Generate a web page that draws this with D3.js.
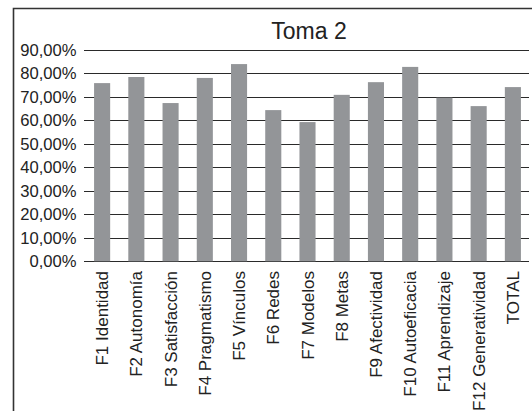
<!DOCTYPE html>
<html><head><meta charset="utf-8">
<script src="https://cdn.jsdelivr.net/npm/d3@7"></script>
<style>body{margin:0;background:#fff}svg{display:block}</style>
</head><body>
<script>
const categories = ["F1 Identidad","F2 Autonomía","F3 Satisfacción","F4 Pragmatismo","F5 Vínculos","F6 Redes","F7 Modelos","F8 Metas","F9 Afectividad","F10 Autoeficacia","F11 Aprendizaje","F12 Generatividad","TOTAL"];
const values = [0.759, 0.785, 0.674, 0.781, 0.840, 0.644, 0.593, 0.709, 0.763, 0.828, 0.697, 0.661, 0.742];
const yTicks = [0,0.1,0.2,0.3,0.4,0.5,0.6,0.7,0.8,0.9];
const title = "Toma 2";

const W = 532, H = 411;
const svg = d3.select("body").append("svg").attr("width", W).attr("height", H);
const font = "'Liberation Sans', Arial, Helvetica, sans-serif";

// outer frame
svg.append("path").attr("d", `M13.5,${H+2} V8.5 H${W+2}`).attr("fill","none").attr("stroke","#333").attr("stroke-width",1.6);

const x = d3.scaleBand().domain(categories).range([85, 530]).paddingInner(0.53).paddingOuter(0.265);
const y = d3.scaleLinear().domain([0, 0.9]).range([261.3, 50]);

// gridlines
svg.append("g").selectAll("line").data(yTicks).join("line")
  .attr("x1", 84).attr("x2", 529)
  .attr("y1", d => Math.round(y(d)) + 0.5).attr("y2", d => Math.round(y(d)) + 0.5)
  .attr("stroke", "#2a2a2a").attr("stroke-width", 1.2);

// y labels
const fmt = d => d3.format(".2f")(d*100).replace(".", ",") + "%";
svg.append("g").selectAll("text").data(yTicks).join("text")
  .attr("x", 76.5).attr("y", d => y(d)).attr("dy", "0.36em")
  .attr("text-anchor", "end").attr("font-family", font).attr("font-size", 16.6).attr("fill", "#222")
  .text(fmt);

// bars
svg.append("g").selectAll("rect").data(values).join("rect")
  .attr("x", (d,i) => x(categories[i])).attr("width", x.bandwidth())
  .attr("y", d => y(d)).attr("height", d => y(0) - y(d))
  .attr("fill", "#939598");

// x labels
svg.append("g").selectAll("text").data(categories).join("text")
  .attr("transform", d => `translate(${x(d) + x.bandwidth()/2 + 6},271) rotate(-90)`)
  .attr("text-anchor", "end").attr("font-family", font).attr("font-size", 17).attr("fill", "#222")
  .text(d => d);

// title
svg.append("text").attr("x", 309).attr("y", 38.5).attr("text-anchor", "middle")
  .attr("font-family", font).attr("font-size", 23).attr("fill", "#222").text(title);
</script>
</body></html>
